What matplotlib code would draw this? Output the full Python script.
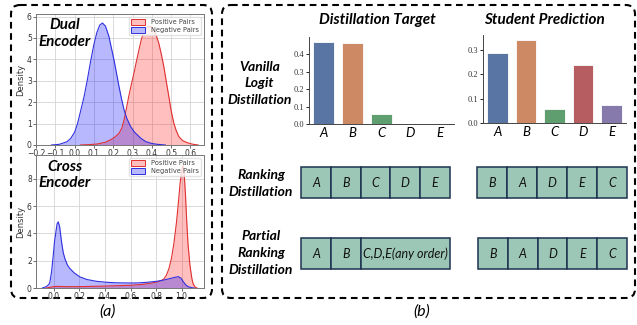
import matplotlib
matplotlib.use("Agg")
import matplotlib.pyplot as plt
from matplotlib.patches import FancyBboxPatch, Rectangle, Patch

# ---- data ----
# (a) score densities, dual encoder
dual_neg_x = [-0.12, -0.08, -0.04, -0.02, 0.0, 0.015, 0.03, 0.049, 0.065, 0.084, 0.1, 0.115, 0.13, 0.144,
              0.16, 0.178, 0.19, 0.204, 0.217, 0.23, 0.243, 0.256, 0.27, 0.29, 0.31, 0.325, 0.345, 0.368,
              0.4, 0.43, 0.47]
dual_neg_y = [0.0, 0.03, 0.15, 0.31, 0.6, 1.0, 1.55, 2.26, 3.0, 3.97, 4.7, 5.25, 5.6, 5.7,
              5.55, 5.06, 4.55, 3.97, 3.35, 2.73, 2.15, 1.64, 1.25, 0.86, 0.6, 0.47, 0.3, 0.16,
              0.07, 0.03, 0.0]
dual_pos_x = [0.03, 0.08, 0.12, 0.16, 0.19, 0.21, 0.23, 0.245, 0.256, 0.268, 0.28, 0.293, 0.307, 0.32,
              0.333, 0.346, 0.359, 0.372, 0.385, 0.4, 0.415, 0.425, 0.436, 0.45, 0.462, 0.475, 0.488,
              0.5, 0.514, 0.527, 0.54, 0.56, 0.583, 0.61, 0.64]
dual_pos_y = [0.0, 0.02, 0.05, 0.13, 0.26, 0.38, 0.55, 0.8, 1.17, 1.7, 2.26, 2.8, 3.35, 3.9,
              4.44, 4.95, 5.3, 5.5, 5.55, 5.5, 5.3, 5.05, 4.75, 4.2, 3.66, 2.95, 2.26,
              1.6, 1.01, 0.65, 0.39, 0.2, 0.11, 0.04, 0.0]

# (a) score densities, cross encoder
cross_neg_x = [-0.09, -0.06, -0.04, -0.031, -0.018, -0.005, 0.005, 0.016, 0.025, 0.034, 0.045, 0.06,
               0.073, 0.086, 0.105, 0.125, 0.16, 0.204, 0.26, 0.334, 0.41, 0.49, 0.57, 0.648, 0.72,
               0.804, 0.86, 0.908, 0.945, 0.974, 0.995, 1.01, 1.03, 1.05, 1.08, 1.1]
cross_neg_y = [0.0, 0.1, 0.25, 0.44, 1.2, 2.4, 3.4, 4.12, 4.7, 4.85, 4.5, 3.38,
               2.6, 2.16, 1.7, 1.43, 1.1, 0.81, 0.62, 0.49, 0.42, 0.38, 0.37, 0.37, 0.41,
               0.49, 0.58, 0.69, 0.78, 0.83, 0.72, 0.5, 0.25, 0.1, 0.02, 0.0]
cross_pos_x = [-0.06, -0.03, 0.0, 0.02, 0.1, 0.2, 0.3, 0.4, 0.5, 0.6, 0.7, 0.77, 0.83, 0.86, 0.88,
               0.9, 0.92, 0.94, 0.96, 0.975, 0.987, 1.0, 1.01, 1.02, 1.03, 1.04, 1.05, 1.065, 1.08,
               1.09, 1.105, 1.12]
cross_pos_y = [0.0, 0.05, 0.1, 0.12, 0.1, 0.1, 0.12, 0.14, 0.17, 0.2, 0.27, 0.37, 0.5, 0.65, 0.93,
               1.4, 2.16, 3.3, 4.85, 6.3, 7.6, 8.6, 9.0, 8.4, 6.8, 4.85, 3.2, 1.67, 0.7,
               0.3, 0.08, 0.0]

# (b) distributions
candidates = ["A", "B", "C", "D", "E"]
target_probs = [0.469, 0.463, 0.055, 0.0, 0.0]
student_probs = [0.287, 0.343, 0.059, 0.239, 0.072]
bar_colors = ["#5975a4", "#cc8963", "#5f9e6e", "#b55d60", "#857aab"]

# (b) rankings
target_rank = ["A", "B", "C", "D", "E"]
student_rank = ["B", "A", "D", "E", "C"]
partial_target = ["A", "B", "C,D,E(any order)"]
partial_span = [1, 1, 3]

# ---- figure ----
W, H = 637, 325
fig = plt.figure(figsize=(W / 100, H / 100), dpi=100)
FONT = ["Lato", "DejaVu Sans"]


def px_axes(l, t, r, b):
    return fig.add_axes([l / W, 1 - b / H, (r - l) / W, (b - t) / H])


canvas = fig.add_axes([0, 0, 1, 1])
canvas.set_xlim(0, W)
canvas.set_ylim(H, 0)
canvas.axis("off")

# dashed frames
for (x0, y0, x1, y1) in [(11, 5, 212, 298), (222, 5, 635, 298)]:
    canvas.add_patch(FancyBboxPatch((x0, y0), x1 - x0, y1 - y0,
                                    boxstyle="round,pad=0,rounding_size=9",
                                    fill=False, ec="black", lw=1.5,
                                    linestyle=(0, (3.2, 2.2))))


def bold(x, y, s, size=10.5, ax=None):
    ax = ax or canvas
    ax.text(x, y, s, ha="center", va="center", fontsize=size, family=FONT,
            style="italic", weight="bold", transform=canvas.transData, zorder=10)


# density panels
def density(ax, pos, neg, xlim, ylim, xticks, yticks):
    ax.fill_between(pos[0], pos[1], color="#ff0000", alpha=0.25, lw=0)
    ax.plot(pos[0], pos[1], color="#e03030", lw=0.8)
    ax.fill_between(neg[0], neg[1], color="#0000ff", alpha=0.28, lw=0)
    ax.plot(neg[0], neg[1], color="#3030e0", lw=0.8)
    ax.set_xlim(*xlim)
    ax.set_ylim(*ylim)
    ax.set_xticks(xticks)
    ax.set_yticks(yticks)
    ax.grid(True, color="#d5d5d5", lw=0.6)
    ax.set_axisbelow(True)
    ax.tick_params(labelsize=5.5, length=2, width=0.5, pad=1, colors="#333333")
    for sp in ax.spines.values():
        sp.set_color("#777777")
        sp.set_linewidth(0.7)
    ax.set_ylabel("Density", fontsize=6, labelpad=1, color="#333333")
    handles = [Patch(fc=(1, 0.75, 0.75), ec="#e03030", lw=0.7),
               Patch(fc=(0.72, 0.72, 1), ec="#3030e0", lw=0.7)]
    ax.legend(handles, ["Positive Pairs", "Negative Pairs"], loc="upper right", fontsize=4.8,
              handlelength=2.2, handleheight=0.9, labelspacing=0.25, borderpad=0.3,
              framealpha=0.8, edgecolor="#dddddd", labelcolor="#444444")


ax1 = px_axes(36, 14, 204, 145)
density(ax1, (dual_pos_x, dual_pos_y), (dual_neg_x, dual_neg_y), (-0.2, 0.67), (0, 6.12),
        [-0.2, -0.1, 0.0, 0.1, 0.2, 0.3, 0.4, 0.5, 0.6], [0, 1, 2, 3, 4, 5, 6])
ax2 = px_axes(36, 155, 204, 288)
density(ax2, (cross_pos_x, cross_pos_y), (cross_neg_x, cross_neg_y), (-0.14, 1.175), (0, 9.75),
        [0.0, 0.2, 0.4, 0.6, 0.8, 1.0], [0, 2, 4, 6, 8])

bold(65, 25, "Dual", 11, ax1)
bold(65, 42, "Encoder", 11, ax1)
bold(65, 167, "Cross", 11, ax2)
bold(65, 183, "Encoder", 11, ax2)


# bar panels
def bars(ax, vals, top, yticks):
    ax.bar(range(len(vals)), vals, width=0.72, color=bar_colors, edgecolor="white", lw=0.6)
    ax.set_xlim(-0.5, len(vals) - 0.5)
    ax.set_ylim(0, top)
    ax.set_xticks(range(len(vals)))
    ax.set_xticklabels(candidates, fontsize=9.5, family=FONT, style="italic")
    ax.set_yticks(yticks)
    ax.set_yticklabels([f"{v:.1f}" for v in yticks], fontsize=6, family="Liberation Serif",
                       color="#333333")
    ax.tick_params(axis="y", length=2, width=0.6, pad=1.5)
    ax.tick_params(axis="x", length=0, pad=2)
    for side in ["top", "right"]:
        ax.spines[side].set_visible(False)
    for side in ["left", "bottom"]:
        ax.spines[side].set_color("#444444")
        ax.spines[side].set_linewidth(0.7)


ax3 = px_axes(309, 37, 454, 124)
bars(ax3, target_probs, 0.5, [0.0, 0.1, 0.2, 0.3, 0.4])
ax4 = px_axes(483, 35, 626, 123)
bars(ax4, student_probs, 0.362, [0.0, 0.1, 0.2, 0.3])

bold(377, 20, "Distillation Target", 11)
bold(544, 20, "Student Prediction", 11)
bold(259.5, 67, "Vanilla", 10)
bold(259.5, 83, "Logit", 10)
bold(259.5, 100, "Distillation", 10)
bold(261, 175, "Ranking", 10)
bold(261, 192, "Distillation", 10)
bold(261, 236, "Partial", 10)
bold(261, 253, "Ranking", 10)
bold(261, 270, "Distillation", 10)


# ranking cells
def cells(x0, y0, labels, spans, cw=29.8, ch=31):
    x = x0
    for lab, sp in zip(labels, spans):
        canvas.add_patch(Rectangle((x, y0), cw * sp, ch, fc="#9cc7b7", ec="#1d3150", lw=1.1))
        canvas.text(x + cw * sp / 2, y0 + ch / 2, lab, ha="center", va="center", fontsize=9,
                    family=FONT, style="italic", color="#111111")
        x += cw * sp


cells(301, 167.3, target_rank, [1] * 5)
cells(477, 167.3, student_rank, [1] * 5, cw=30)
cells(301, 238.3, partial_target, partial_span)
cells(478, 238.3, student_rank, [1] * 5, cw=29.8)

canvas.text(107, 312, "(a)", ha="center", va="center", fontsize=11.5, family=FONT, style="italic")
canvas.text(422, 312, "(b)", ha="center", va="center", fontsize=11.5, family=FONT, style="italic")

fig.savefig("out.png", dpi=100)
